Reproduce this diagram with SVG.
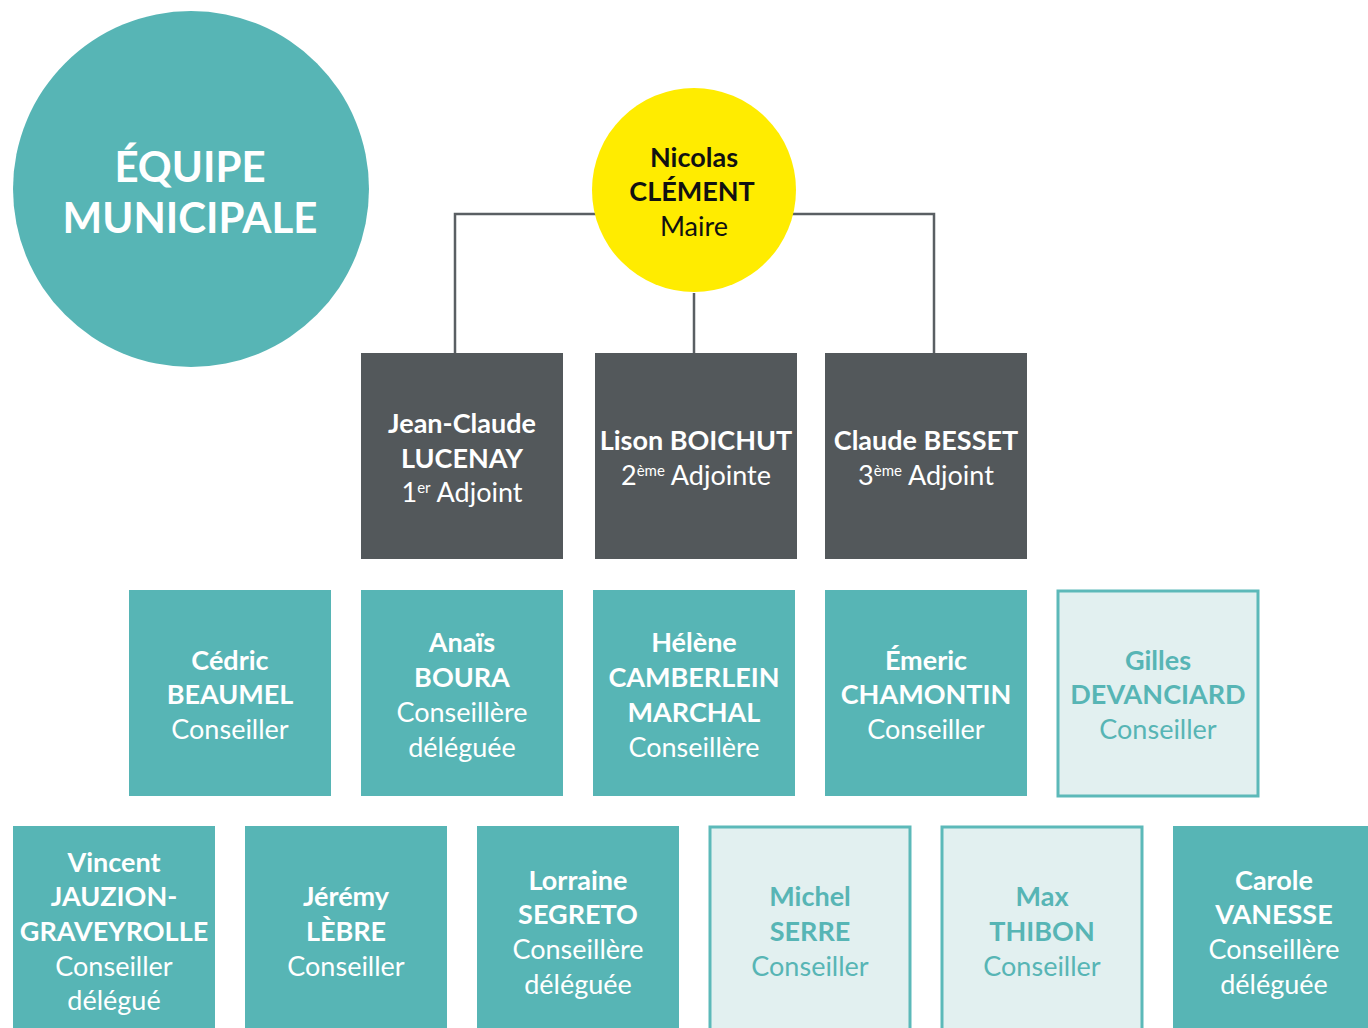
<svg xmlns="http://www.w3.org/2000/svg" width="1368" height="1028" viewBox="0 0 1368 1028">
<style>
text{font-family:"Source Sans Pro",Lato,"Noto Sans",sans-serif;font-size:27px;text-anchor:middle}
.b{font-weight:bold}
.w{fill:#ffffff}
.k{fill:#111111}
.t{fill:#57b5b5}
.teal{fill:#57b5b5}
.dark{fill:#53585b}
.light{fill:#e2f0f0;stroke:#5cb9b9;stroke-width:3}
.sup{font-size:15px}
.conn{fill:none;stroke:#5a5f63;stroke-width:2.5}
</style>
<rect width="1368" height="1028" fill="#ffffff"/>
<g id="title">
<circle cx="191" cy="189" r="178" fill="#57b5b5"/>
<text class="b w" x="190" y="182" style="font-size:42px">ÉQUIPE</text>
<text class="b w" x="190" y="233" style="font-size:42px">MUNICIPALE</text>
</g>
<g id="connectors">
<path class="conn" d="M455 353V214H934V353M694 293V353"/>
</g>
<g id="maire">
<circle cx="694" cy="190" r="102" fill="#ffec00"/>
<text class="b k" x="694" y="167">Nicolas</text>
<text class="b k" x="692" y="201">CLÉMENT</text>
<text class="k" x="694" y="236">Maire</text>
</g>
<g id="adj1">
<rect class="dark" x="361" y="353" width="202" height="206"/>
<text class="b w" x="462" y="433">Jean-Claude</text>
<text class="b w" x="462" y="468">LUCENAY</text>
<text class="w" x="462" y="502">1<tspan class="sup" dy="-9">er</tspan><tspan dy="9"> Adjoint</tspan></text>
</g>
<g id="adj2">
<rect class="dark" x="595" y="353" width="202" height="206"/>
<text class="b w" x="696" y="450">Lison BOICHUT</text>
<text class="w" x="696" y="485">2<tspan class="sup" dy="-9">ème</tspan><tspan dy="9"> Adjointe</tspan></text>
</g>
<g id="adj3">
<rect class="dark" x="825" y="353" width="202" height="206"/>
<text class="b w" x="926" y="450">Claude BESSET</text>
<text class="w" x="926" y="485">3<tspan class="sup" dy="-9">ème</tspan><tspan dy="9"> Adjoint</tspan></text>
</g>
<g id="beaumel">
<rect class="teal" x="129" y="590" width="202" height="206"/>
<text class="b w" x="230" y="670">Cédric</text>
<text class="b w" x="230" y="704">BEAUMEL</text>
<text class="w" x="230" y="739">Conseiller</text>
</g>
<g id="boura">
<rect class="teal" x="361" y="590" width="202" height="206"/>
<text class="b w" x="462" y="652">Anaïs</text>
<text class="b w" x="462" y="687">BOURA</text>
<text class="w" x="462" y="722">Conseillère</text>
<text class="w" x="462" y="757">déléguée</text>
</g>
<g id="camberlein">
<rect class="teal" x="593" y="590" width="202" height="206"/>
<text class="b w" x="694" y="652">Hélène</text>
<text class="b w" x="694" y="687">CAMBERLEIN</text>
<text class="b w" x="694" y="722">MARCHAL</text>
<text class="w" x="694" y="757">Conseillère</text>
</g>
<g id="chamontin">
<rect class="teal" x="825" y="590" width="202" height="206"/>
<text class="b w" x="926" y="670">Émeric</text>
<text class="b w" x="926" y="704">CHAMONTIN</text>
<text class="w" x="926" y="739">Conseiller</text>
</g>
<g id="devanciard">
<rect class="light" x="1058" y="591" width="200" height="205"/>
<text class="b t" x="1158" y="670">Gilles</text>
<text class="b t" x="1158" y="704">DEVANCIARD</text>
<text class="t" x="1158" y="739">Conseiller</text>
</g>
<g id="jauzion">
<rect class="teal" x="13" y="826" width="202" height="206"/>
<text class="b w" x="114" y="872">Vincent</text>
<text class="b w" x="114" y="906">JAUZION-</text>
<text class="b w" x="114" y="941">GRAVEYROLLE</text>
<text class="w" x="114" y="976">Conseiller</text>
<text class="w" x="114" y="1010">délégué</text>
</g>
<g id="lebre">
<rect class="teal" x="245" y="826" width="202" height="206"/>
<text class="b w" x="346" y="906">Jérémy</text>
<text class="b w" x="346" y="941">LÈBRE</text>
<text class="w" x="346" y="976">Conseiller</text>
</g>
<g id="segreto">
<rect class="teal" x="477" y="826" width="202" height="206"/>
<text class="b w" x="578" y="890">Lorraine</text>
<text class="b w" x="578" y="924">SEGRETO</text>
<text class="w" x="578" y="959">Conseillère</text>
<text class="w" x="578" y="994">déléguée</text>
</g>
<g id="serre">
<rect class="light" x="710" y="827" width="200" height="205"/>
<text class="b t" x="810" y="906">Michel</text>
<text class="b t" x="810" y="941">SERRE</text>
<text class="t" x="810" y="976">Conseiller</text>
</g>
<g id="thibon">
<rect class="light" x="942" y="827" width="200" height="205"/>
<text class="b t" x="1042" y="906">Max</text>
<text class="b t" x="1042" y="941">THIBON</text>
<text class="t" x="1042" y="976">Conseiller</text>
</g>
<g id="vanesse">
<rect class="teal" x="1173" y="826" width="202" height="206"/>
<text class="b w" x="1274" y="890">Carole</text>
<text class="b w" x="1274" y="924">VANESSE</text>
<text class="w" x="1274" y="959">Conseillère</text>
<text class="w" x="1274" y="994">déléguée</text>
</g>
</svg>
